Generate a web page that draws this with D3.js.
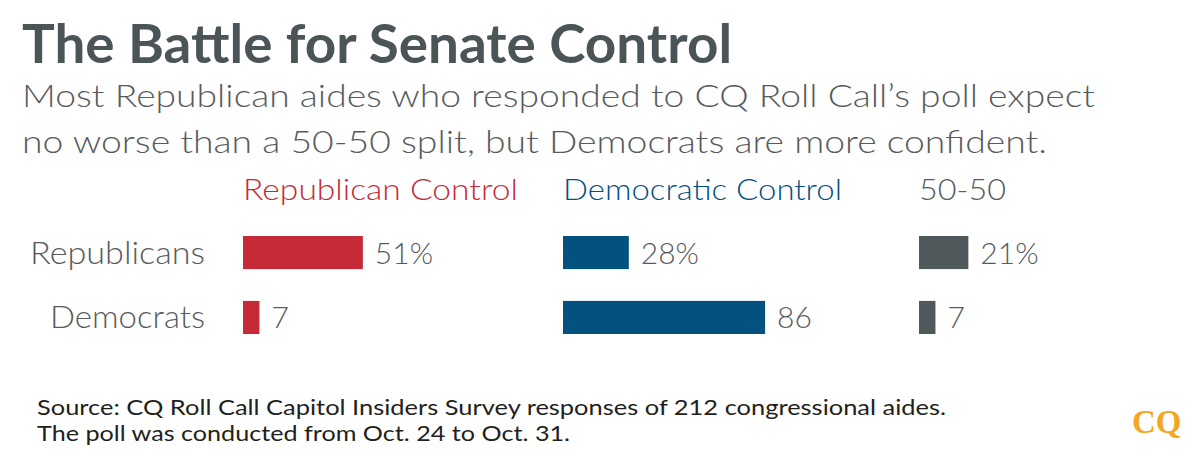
<!DOCTYPE html>
<html>
<head>
<meta charset="utf-8">
<script src="https://cdn.jsdelivr.net/npm/d3@7"></script>
<style>
  body { margin: 0; background: #fff; }
  svg text { font-family: Lato, "Open Sans", sans-serif; }
</style>
</head>
<body>
<div class="usable"></div>
<script>
// data
const groups = ["Republicans", "Democrats"];
const outcomes = ["Republican Control", "Democratic Control", "50-50"];
const republicanControl = [51, 7];
const democraticControl = [28, 86];
const fiftyFifty = [21, 7];
const suffixes = ["%", ""];

const seriesValues = [republicanControl, democraticControl, fiftyFifty];
const colors = ["#c52a36", "#02517f", "#4f595c"];
const headerColors = ["#c52a36", "#02517f", "#555b5e"];
const headerLen = [275, 279, 87];
const rowLen = [175, 155];

let svg = d3.select(".usable").append("svg")
    .attr("width", "1200")
    .attr("height", "463");

// title + subtitle
svg.append("text")
    .text("The Battle for Senate Control")
    .attr("x", 22).attr("y", 63)
    .attr("textLength", 710).attr("lengthAdjust", "spacingAndGlyphs")
    .style("font-size", "53px").style("font-weight", "700")
    .attr("fill", "#4b5457");

const subtitle = [
    "Most Republican aides who responded to CQ Roll Call\u2019s poll expect",
    "no worse than a 50-50 split, but Democrats are more confident."
];
const subLen = [1073, 1025];
subtitle.forEach((s, i) => {
    svg.append("text")
        .text(s)
        .attr("x", 22).attr("y", 107 + i * 46)
        .attr("textLength", subLen[i]).attr("lengthAdjust", "spacingAndGlyphs")
        .style("font-size", "31px").style("font-weight", "300")
        .attr("fill", "#575b5d");
});

// scales
const x = d3.scaleLinear().domain([0, 100]).range([0, 235]);
const colX = d3.scaleOrdinal().domain(outcomes).range([243, 563, 919]);
const y = d3.scaleBand().domain(groups).range([236, 334]).paddingInner(0.49);

// column headers
svg.selectAll(".header")
    .data(outcomes)
    .join("text")
    .attr("class", "header")
    .text(d => d)
    .attr("x", d => colX(d))
    .attr("y", 200)
    .attr("textLength", (d, i) => headerLen[i]).attr("lengthAdjust", "spacingAndGlyphs")
    .style("font-size", "29px").style("font-weight", "300")
    .attr("fill", (d, i) => headerColors[i]);

// row labels
svg.selectAll(".rowlabel")
    .data(groups)
    .join("text")
    .attr("class", "rowlabel")
    .text(d => d)
    .attr("x", 205)
    .attr("y", d => y(d) + y.bandwidth() / 2 + 11)
    .attr("text-anchor", "end")
    .attr("textLength", (d, i) => rowLen[i]).attr("lengthAdjust", "spacingAndGlyphs")
    .style("font-size", "31px").style("font-weight", "300")
    .attr("fill", "#575b5d");

// bars + values
outcomes.forEach((o, j) => {
    const g = svg.append("g");
    const rows = groups.map((grp, i) => ({ grp: grp, v: seriesValues[j][i], s: suffixes[i] }));

    g.selectAll("rect")
        .data(rows)
        .join("rect")
        .attr("x", colX(o))
        .attr("y", d => y(d.grp))
        .attr("width", d => x(d.v))
        .attr("height", y.bandwidth())
        .attr("fill", colors[j]);

    g.selectAll("text")
        .data(rows)
        .join("text")
        .text(d => d.v + d.s)
        .attr("x", d => colX(o) + x(d.v) + 12)
        .attr("y", d => y(d.grp) + y.bandwidth() / 2 + 11)
        .style("font-size", "30px").style("font-weight", "300")
        .attr("fill", "#575b5d");
});

// footer
const notes = [
    "Source: CQ Roll Call Capitol Insiders Survey responses of 212 congressional aides.",
    "The poll was conducted from Oct. 24 to Oct. 31."
];
const noteLen = [909, 533];
notes.forEach((n, i) => {
    svg.append("text")
        .text(n)
        .attr("x", 37).attr("y", 415 + i * 26)
        .attr("textLength", noteLen[i]).attr("lengthAdjust", "spacingAndGlyphs")
        .style("font-size", "22px")
        .attr("fill", "#231f20");
});

// logo
svg.append("text")
    .text("CQ")
    .attr("x", 1132).attr("y", 433)
    .style("font-family", "'Liberation Serif', serif")
    .style("font-size", "33px").style("font-weight", "700")
    .attr("fill", "#f5a623");
</script>
</body>
</html>
